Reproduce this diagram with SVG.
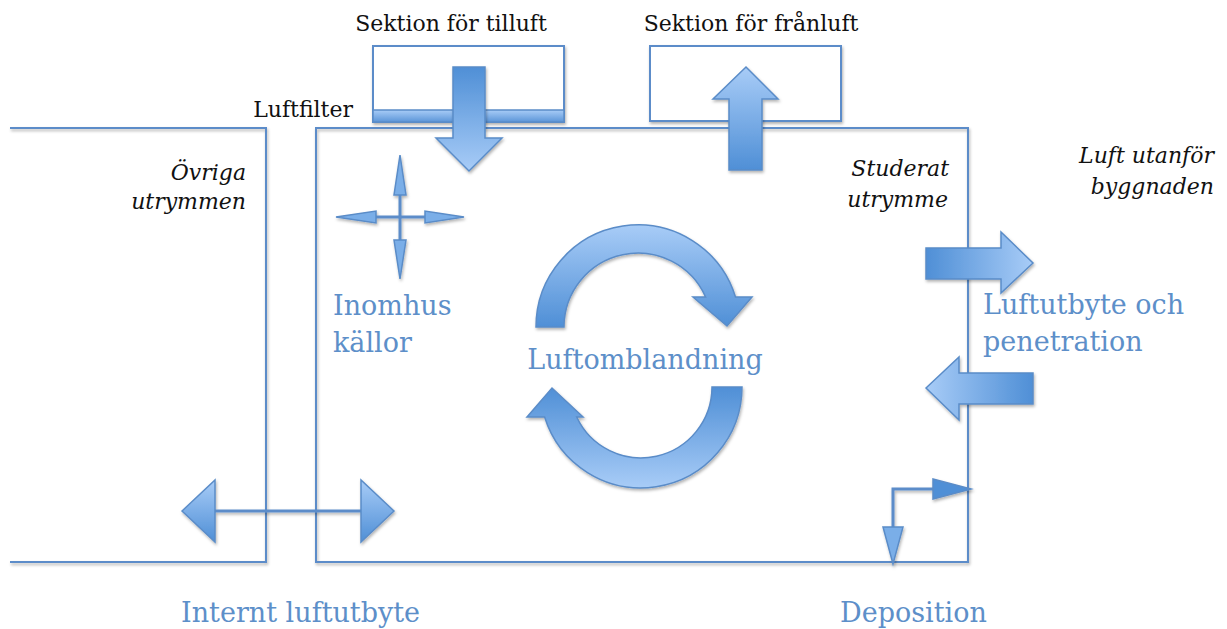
<svg xmlns="http://www.w3.org/2000/svg" width="1227" height="629" viewBox="0 0 1227 629">
<defs>
<style>
.wall{fill:none;stroke:#5b8cc9;stroke-width:2}
.box{fill:#fff;stroke:#5b8cc9;stroke-width:2}
.arr{stroke:#5a8cc8;stroke-width:1.5;stroke-linejoin:miter}
.ln{fill:none;stroke:#5b8cc9;stroke-width:3}
.blk{font-family:"DejaVu Serif","Liberation Serif",serif;font-size:22px;fill:#111}
.it{font-family:"DejaVu Serif","Liberation Serif",serif;font-size:22px;font-style:italic;fill:#111}
.blue{font-family:"DejaVu Serif","Liberation Serif",serif;font-size:27px;fill:#5d8fc9}
</style>
<linearGradient id="gDown" x1="0" y1="0" x2="0" y2="1"><stop offset="0" stop-color="#4f8fd6"/><stop offset="1" stop-color="#a8ccf7"/></linearGradient>
<linearGradient id="gUp" x1="0" y1="0" x2="0" y2="1"><stop offset="0" stop-color="#a8ccf7"/><stop offset="1" stop-color="#4f8fd6"/></linearGradient>
<linearGradient id="gRight" x1="0" y1="0" x2="1" y2="0"><stop offset="0" stop-color="#4f8fd6"/><stop offset="1" stop-color="#a8ccf7"/></linearGradient>
<linearGradient id="gLeft" x1="0" y1="0" x2="1" y2="0"><stop offset="0" stop-color="#a8ccf7"/><stop offset="1" stop-color="#4f8fd6"/></linearGradient>
<linearGradient id="gBand" x1="0" y1="0" x2="0" y2="1"><stop offset="0" stop-color="#a8ccf7"/><stop offset="1" stop-color="#5b95d8"/></linearGradient>
<filter id="sh" x="-20%" y="-20%" width="150%" height="150%"><feDropShadow dx="1" dy="2" stdDeviation="1.5" flood-color="#000" flood-opacity="0.3"/></filter>
</defs>
<rect width="1227" height="629" fill="#fff"/>

<g id="left-room">
<polyline class="wall" points="10,128 266,128 266,562 10,562" filter="url(#sh)"/>
<text class="it" x="246" y="180" text-anchor="end">Övriga</text>
<text class="it" x="246" y="209" text-anchor="end">utrymmen</text>
</g>

<g id="studied-room">
<rect class="wall" x="316" y="128" width="652" height="434" filter="url(#sh)"/>
<text class="it" x="949" y="176" text-anchor="end">Studerat</text>
<text class="it" x="948" y="207" text-anchor="end">utrymme</text>
</g>

<g id="outside">
<text class="it" x="1214" y="163" text-anchor="end">Luft utanför</text>
<text class="it" x="1214" y="194" text-anchor="end">byggnaden</text>
</g>

<g id="supply-section">
<rect class="box" x="373" y="46" width="191" height="76" filter="url(#sh)"/>
<rect x="373" y="110" width="191" height="12" fill="url(#gBand)" stroke="#5a8cc8" stroke-width="1.5"/>
<text class="blk" x="451" y="31" text-anchor="middle">Sektion för tilluft</text>
<text class="blk" x="353" y="117" text-anchor="end">Luftfilter</text>
</g>

<g id="exhaust-section">
<rect class="box" x="650" y="46" width="191" height="75" filter="url(#sh)"/>
<text class="blk" x="751" y="31" text-anchor="middle">Sektion för frånluft</text>
</g>

<g id="connectors">
<polygon class="arr" fill="url(#gDown)" filter="url(#sh)" points="453,67 485,67 485,138 502,138 469,171 436,138 453,138"/>
<polygon class="arr" fill="url(#gUp)" filter="url(#sh)" points="746,67 778,99 762,99 762,170 729,170 729,99 713,99"/>

<g id="indoor-sources" filter="url(#sh)">
<line class="ln" x1="400" y1="190" x2="400" y2="244"/>
<line class="ln" x1="372" y1="217" x2="430" y2="217"/>
<polygon class="arr" fill="#7aaee8" points="400,155 406,195 394,195"/>
<polygon class="arr" fill="#7aaee8" points="400,279 406,240 394,240"/>
<polygon class="arr" fill="#7aaee8" points="336,217 376,211 376,223"/>
<polygon class="arr" fill="#7aaee8" points="464,217 425,211 425,223"/>
</g>

<path class="arr" fill="url(#gUp)" filter="url(#sh)" d="M536,327 A102,102 0 0 1 735.5,297 L752,297 L727,326 L693,297 L705.6,297 A74,74 0 0 0 564,327 Z"/>
<path class="arr" fill="url(#gDown)" filter="url(#sh)" d="M742,387 A101,101 0 0 1 544.6,417 L527,417 L552,388 L583,417 L576.7,417 A71,71 0 0 0 712,387 Z"/>

<polygon class="arr" fill="url(#gRight)" filter="url(#sh)" points="926,248 1001,248 1001,232 1033,263 1001,293 1001,279 926,279"/>
<polygon class="arr" fill="url(#gLeft)" filter="url(#sh)" points="926,388 959,357 959,373 1033,373 1033,404 959,404 959,420"/>

<g id="internal-exchange" filter="url(#sh)">
<line class="ln" x1="213" y1="511" x2="363" y2="511"/>
<polygon class="arr" fill="url(#gUp)" points="182,511 215,480 215,542"/>
<polygon class="arr" fill="url(#gUp)" points="394,511 361,480 361,542"/>
</g>

<g id="deposition-arrows" filter="url(#sh)">
<polyline class="ln" points="893,530 893,489 936,489"/>
<polygon class="arr" fill="#4f8fd6" points="933,479 971,489 933,499"/>
<polygon class="arr" fill="#7aaee8" points="883,527 903,527 893,564"/>
</g>
</g>

<g id="labels">
<text class="blue" x="333" y="315">Inomhus</text>
<text class="blue" x="333" y="352">källor</text>
<text class="blue" x="645" y="369" text-anchor="middle">Luftomblandning</text>
<text class="blue" x="983" y="314">Luftutbyte och</text>
<text class="blue" x="983" y="351">penetration</text>
<text class="blue" x="181" y="622">Internt luftutbyte</text>
<text class="blue" x="840" y="622">Deposition</text>
</g>
</svg>
